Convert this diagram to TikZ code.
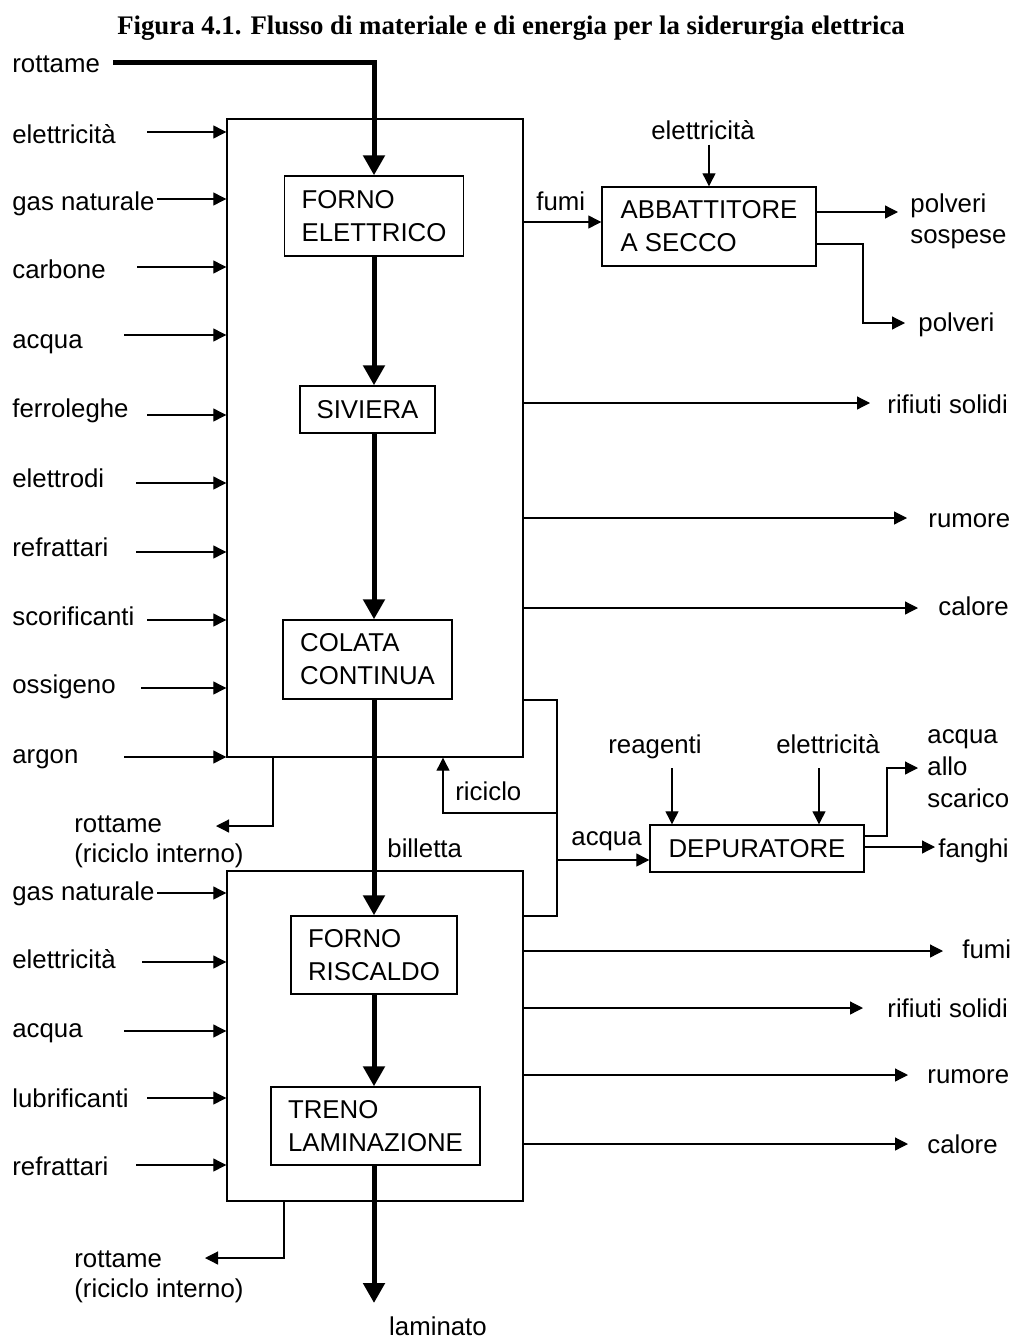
\documentclass[tikz,border=0pt]{standalone}
\usepackage{fontspec}
\setmainfont{Liberation Sans}
\newfontfamily\titlefont{Liberation Serif}
\usetikzlibrary{arrows.meta}

\begin{document}
\begin{tikzpicture}
    [x=0.5pt, y=-0.5pt,
    every node/.style={font=\fontsize{12.9}{16.5}\selectfont, inner sep=0pt},
    lbl/.style={anchor=base west, align=left, font=\fontsize{12.9}{15}\selectfont},
    unit/.style={draw, line width=0.7pt, align=left},
    plant/.style={draw, line width=0.7pt, minimum width=148pt},
    arr/.style={line width=0.6pt, -{Triangle[length=6.5pt,width=6.5pt]}},
    flow/.style={line width=2.5pt, -{Triangle[length=10pt,width=10.5pt]}}]

    \useasboundingbox (0,0) rectangle (1012,1338);

    \node[anchor=base, font=\titlefont\bfseries\fontsize{13.4}{16}\selectfont] (title) at (511,35)
        {Figura 4.1. Flusso di materiale e di energia per la siderurgia elettrica};

    % plants
    \node[plant, minimum height=319pt] (box1) at (375,438) {};
    \node[plant, minimum height=165pt] (box2) at (375,1036) {};

    % units
    \node[unit, minimum width=89.5pt, minimum height=40pt] (forno) at (374,216) {FORNO\\ELETTRICO};
    \node[unit, minimum width=67.5pt, minimum height=23.5pt] (siviera) at (367.5,409.5) {SIVIERA};
    \node[unit, minimum width=84.5pt, minimum height=39.5pt] (colata) at (367.5,659.5) {COLATA\\CONTINUA};
    \node[unit, minimum width=83pt, minimum height=39pt] (riscaldo) at (374,955) {FORNO\\RISCALDO};
    \node[unit, minimum width=104.5pt, minimum height=39pt] (treno) at (375.5,1126) {TRENO\\LAMINAZIONE};
    \node[unit, minimum width=107pt, minimum height=39.5pt] (abb) at (709,226.5) {ABBATTITORE\\A SECCO};
    \node[unit, minimum width=107pt, minimum height=23.5pt] (dep) at (757,848.5) {DEPURATORE};

    % main flow
    \node[lbl] (rottame) at (12,73) {rottame};
    \coordinate (rin) at (113,63);
    \draw[flow] (rin) -| (forno.north);
    \draw[flow] (forno.south) -- (forno.south |- siviera.north);
    \draw[flow] (forno.south |- siviera.south) -- (forno.south |- colata.north);
    \draw[flow] (forno.south |- colata.south) -- (forno.south |- riscaldo.north);
    \draw[flow] (forno.south |- riscaldo.south) -- (forno.south |- treno.north);
    \coordinate (lam) at (374,1303);
    \draw[flow] (forno.south |- treno.south) -- (lam);
    \node[anchor=base] (laminato) at (438,1335) {laminato};
    \node[lbl] (billetta) at (387,857) {billetta};

    % inputs
    \foreach \n/\txt/\b/\a/\s in {el/elettricità/143/132/147, gn/gas naturale/210/199/157,
        cb/carbone/278/267/137, aq/acqua/348/335/124, fl/ferroleghe/417/415/147,
        ed/elettrodi/487/483/136, rf/refrattari/556/552/136, sc/scorificanti/625/620/147,
        os/ossigeno/693/688/141, ar/argon/763/757/124}{
        \node[lbl] (in1-\n) at (12,\b) {\txt};
        \coordinate (s1-\n) at (\s,\a);
        \draw[arr] (s1-\n) -- (s1-\n -| box1.west);
    }
    \foreach \n/\txt/\b/\a/\s in {gn/gas naturale/900/893/157, el/elettricità/968/962/142,
        aq/acqua/1037/1031/124, lb/lubrificanti/1107/1098/147, rf/refrattari/1175/1165/136}{
        \node[lbl] (in2-\n) at (12,\b) {\txt};
        \coordinate (s2-\n) at (\s,\a);
        \draw[arr] (s2-\n) -- (s2-\n -| box2.west);
    }

    % outputs
    \foreach \n/\txt/\a/\t/\x/\b in {rs/rifiuti solidi/403/870/887/413, ru/rumore/518/907/928/527,
        ca/calore/608/918/938/615}{
        \coordinate (t1-\n) at (\t,\a);
        \draw[arr] (t1-\n -| box1.east) -- (t1-\n);
        \node[lbl] (out1-\n) at (\x,\b) {\txt};
    }
    \foreach \n/\txt/\a/\t/\x/\b in {fu/fumi/951/943/962/958, rs/rifiuti solidi/1008/863/887/1017,
        ru/rumore/1075/908/927/1083, ca/calore/1144/908/927/1153}{
        \coordinate (t2-\n) at (\t,\a);
        \draw[arr] (t2-\n -| box2.east) -- (t2-\n);
        \node[lbl] (out2-\n) at (\x,\b) {\txt};
    }

    % scrap recycling
    \coordinate (rc1) at (273,826);
    \coordinate (rc1t) at (216,826);
    \draw[arr] (rc1 |- box1.south) -- (rc1) -- (rc1t);
    \node[lbl] (scrap1) at (74,862) {rottame\\(riciclo interno)};
    \coordinate (rc2) at (284,1258);
    \coordinate (rc2t) at (205,1258);
    \draw[arr] (rc2 |- box2.south) -- (rc2) -- (rc2t);
    \node[lbl] (scrap2) at (74,1297) {rottame\\(riciclo interno)};

    % fumes
    \node[lbl] (fumi) at (536,210) {fumi};
    \coordinate (fm) at (523,222);
    \draw[arr] (fm) -- (fm -| abb.west);
    \node[anchor=base] (elAbb) at (703,140) {elettricità};
    \draw[arr] ([yshift=-2pt]elAbb.south -| abb.north) -- (abb.north);
    \coordinate (ps) at (898,212);
    \draw[arr] (ps -| abb.east) -- (ps);
    \node[lbl, font=\fontsize{12.9}{15.5}\selectfont] (sospese) at (910,243) {polveri\\sospese};
    \coordinate (pk) at (863,244);
    \coordinate (pv) at (905,323);
    \draw[arr] (pk -| abb.east) -- (pk) |- (pv);
    \node[lbl] (polveri) at (918,331) {polveri};

    % water
    \coordinate (wk) at (557,700);
    \coordinate (wb) at (557,916);
    \draw[line width=0.6pt] (wk -| box1.east) -- (wk) -- (wb) -- (wb -| box2.east);
    \coordinate (rk) at (443,813);
    \draw[arr] (rk -| wk) -- (rk) -- (rk |- box1.south);
    \node[lbl] (riciclo) at (455,800) {riciclo};
    \coordinate (aq) at (557,860);
    \draw[arr] (aq) -- (aq -| dep.west);
    \node[lbl] (acqua) at (571,845) {acqua};
    \node[anchor=base] (reagenti) at (655,753) {reagenti};
    \coordinate (reaS) at (672,768);
    \draw[arr] (reaS) -- (reaS |- dep.north);
    \node[anchor=base] (elDep) at (828,753) {elettricità};
    \coordinate (elS) at (819,768);
    \draw[arr] (elS) -- (elS |- dep.north);
    \coordinate (sk) at (887,836);
    \coordinate (st) at (918,768);
    \draw[arr] (sk -| dep.east) -- (sk) |- (st);
    \node[lbl, font=\fontsize{12.9}{16}\selectfont] (scarico) at (927,807) {acqua\\allo\\scarico};
    \coordinate (fg) at (935,847);
    \draw[arr] (fg -| dep.east) -- (fg);
    \node[lbl] (fanghi) at (938,857) {fanghi};
\end{tikzpicture}
\end{document}
